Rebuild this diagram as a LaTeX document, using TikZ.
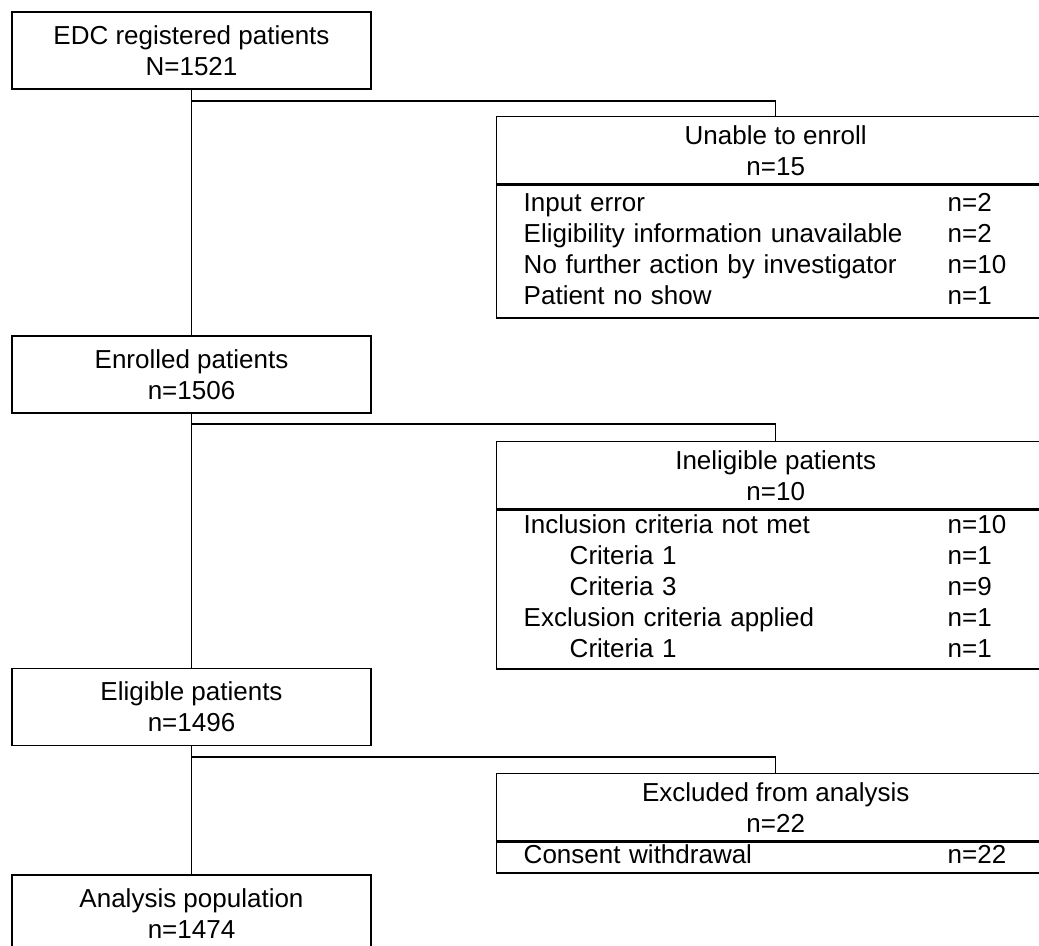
\documentclass[tikz,border=0pt]{standalone}
\usepackage{fontspec}
\setmainfont{Liberation Sans}
\usepackage{array}
\usetikzlibrary{positioning}
\newcommand{\crit}{\hspace*{34.5pt}}
\tikzset{
    boxnode/.style = {rectangle, draw=black, line width=1.1pt, inner sep=0pt, font=\fontsize{19.5}{23.25}\selectfont},
    flow_box/.style = {boxnode, align=center, minimum width=269.25pt, minimum height=57.75pt},
    head_box/.style = {boxnode, align=center, minimum width=418.5pt, minimum height=50.25pt, anchor=north west},
    list_box/.style = {boxnode, text width=418.5pt, align=left, minimum height=#1, anchor=north west},
    link/.style = {draw=black, line width=1.1pt}
}

\begin{document}
\begin{tikzpicture}[x=0.75pt, y=-0.75pt]
    \useasboundingbox (0,0) rectangle (1039,946);
    % main flow
    \node [flow_box] (edc) at (191.5,50.5) {EDC registered patients\\N=1521};
    \node [flow_box] (enrolled) at (191.5,374.5) {Enrolled patients\\n=1506};
    \node [flow_box] (eligible) at (191.5,707) {Eligible patients\\n=1496};
    \node [flow_box] (analysis) at (191.5,913.5) {Analysis population\\n=1474};
    % side boxes
    \node [head_box] (unable) at (496,116) {Unable to enroll\\n=15};
    \node [list_box=99.75pt] (unable_list) at (unable.south west) {\noindent
        \begin{tabular}{@{\hspace*{20.25pt}}p{318pt}@{}l@{}}
            Input error & n=2\\
            Eligibility information unavailable & n=2\\
            No further action by investigator & n=10\\
            Patient no show & n=1
        \end{tabular}};
    \node [head_box] (inelig) at (496,441) {Ineligible patients\\n=10};
    \node [list_box=119.25pt] (inelig_list) at (inelig.south west) {\noindent
        \begin{tabular}{@{\hspace*{20.25pt}}p{318pt}@{}l@{}}
            Inclusion criteria not met & n=10\\
            \crit Criteria 1 & n=1\\
            \crit Criteria 3 & n=9\\
            Exclusion criteria applied & n=1\\
            \crit Criteria 1 & n=1
        \end{tabular}};
    \node [head_box] (excluded) at (496,773) {Excluded from analysis\\n=22};
    \node [list_box=22.5pt] (excluded_list) at (excluded.south west) {\noindent
        \begin{tabular}{@{\hspace*{20.25pt}}p{318pt}@{}l@{}}
            Consent withdrawal & n=22
        \end{tabular}};
    % connectors
    \coordinate (split1) at (191.5,101);
    \coordinate (split2) at (191.5,424);
    \coordinate (split3) at (191.5,757);
    \draw [link] (edc) -- (enrolled);
    \draw [link] (enrolled) -- (eligible);
    \draw [link] (eligible) -- (analysis);
    \draw [link] (split1) -| (unable.north);
    \draw [link] (split2) -| (inelig.north);
    \draw [link] (split3) -| (excluded.north);
\end{tikzpicture}
\end{document}
